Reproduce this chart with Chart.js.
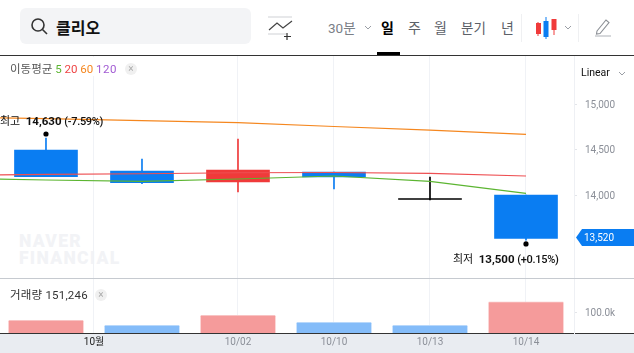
<!DOCTYPE html>
<html lang="ko"><head><meta charset="utf-8">
<script src="https://cdn.jsdelivr.net/npm/chart.js@4"></script>
<style>
html,body{margin:0;padding:0;background:#fff;overflow:hidden}
body{width:634px;height:353px;position:relative;font-family:Roboto,"Noto Sans CJK KR",sans-serif;color:#222}
.a{position:absolute;white-space:nowrap}
canvas{position:absolute;left:0}
</style></head><body>
<div class="a" style="left:20px;top:8px;width:231px;height:36px;background:#f3f4f6;border-radius:6px"></div>
<svg class="a" style="left:30px;top:17px" width="20" height="20" fill="none" stroke="#333" stroke-width="1.6"><circle cx="8" cy="8" r="6"/><path d="M12.5 12.5L17 17"/></svg>
<div class="a" style="left:56px;top:15px;font:bold 16px/24px 'Noto Sans CJK KR';color:#111">클리오</div>
<svg class="a" style="left:268px;top:16px" width="26" height="24" fill="none" stroke-width="1.2"><path d="M0 1H24M0 18H18" stroke="#cfd2d6"/><path d="M1 14L9 7L15 12L24 5" stroke="#444"/><path d="M19 17V24M16 20.5H23" stroke="#333"/></svg>
<div class="a" style="left:328px;top:18px;font:13.5px/20px Roboto,'Noto Sans CJK KR';color:#7b8087">30분</div>
<svg class="a" style="left:364px;top:25px" width="8" height="6" fill="none" stroke="#9a9ea5"><path d="M1 1L4 4L7 1"/></svg>
<div class="a" style="left:381px;top:17px;font:bold 14px/20px 'Noto Sans CJK KR';color:#000">일</div>
<div class="a" style="left:408px;top:17px;font:14px/20px 'Noto Sans CJK KR';color:#5c6168">주</div>
<div class="a" style="left:434px;top:17px;font:14px/20px 'Noto Sans CJK KR';color:#5c6168">월</div>
<div class="a" style="left:461px;top:17px;font:13.5px/20px 'Noto Sans CJK KR';color:#5c6168">분기</div>
<div class="a" style="left:501px;top:17px;font:14px/20px 'Noto Sans CJK KR';color:#5c6168">년</div>
<div class="a" style="left:521px;top:14px;width:1px;height:28px;background:#eff0f2"></div>
<div class="a" style="left:578px;top:14px;width:1px;height:28px;background:#eff0f2"></div>
<svg class="a" style="left:535px;top:16px" width="24" height="24"><path d="M3 6V20M19 3V19" stroke="#f03a3a"/><rect x="1" y="7" width="5" height="11" fill="#f03a3a"/><rect x="16.500" y="3" width="5" height="11" fill="#f03a3a"/><path d="M11 1V23" stroke="#0a7df2"/><rect x="8.500" y="5" width="5" height="16" fill="#0a7df2"/></svg>
<svg class="a" style="left:564px;top:25px" width="8" height="6" fill="none" stroke="#9a9ea5"><path d="M1 1L4 4L7 1"/></svg>
<svg class="a" style="left:594px;top:18px" width="18" height="20" fill="none" stroke="#8c9096" stroke-width="1.1"><path d="M3 13L12 2L15 4.500L6 15.500L2.500 16Z"/><path d="M1 18H17" stroke="#b5b8bd"/></svg>
<div class="a" style="left:377px;top:52px;width:23px;height:3px;background:#000"></div>
<div class="a" style="left:0;top:55px;width:634px;height:1px;background:#333"></div>

<div class="a" style="left:19px;top:233px;font:900 17.500px/17px Roboto,sans-serif;letter-spacing:1.3px;color:#f2f3f6">NAVER<br>FINANCIAL</div>

<canvas id="price" width="634" height="222" style="top:56px;width:634px;height:222px"></canvas>
<canvas id="volume" width="634" height="74" style="top:279px;width:634px;height:74px"></canvas>

<div class="a" style="left:0;top:278px;width:634px;height:1px;background:#c6cad0"></div>

<div class="a" style="left:0;top:57px;width:140px;height:19px;background:#fff"></div>
<div class="a" style="left:10px;top:61px;font:11.500px/16px Roboto,'Noto Sans CJK KR';color:#555">이동평균 <span style="color:#5cb531">5</span> <span style="color:#ee4444">20</span> <span style="color:#f5871f">60</span> <span style="color:#a25bd3;letter-spacing:.5px">120</span></div>
<div class="a" style="left:125px;top:63px;width:12px;height:12px;border-radius:6px;background:#f0f0f0;color:#aaa;font:10px/12px Roboto;text-align:center">×</div>
<div class="a" style="left:581px;top:65px;font:10.500px/16px Roboto;color:#111">Linear</div>
<svg class="a" style="left:618px;top:71px" width="8" height="6" fill="none" stroke="#9a9ea5"><path d="M1 1L4 4L7 1"/></svg>

<div class="a" style="left:0;top:113px;font:11px/17px Roboto,'Noto Sans CJK KR';color:#111">최고 &nbsp;<b style="font-size:11.500px">14,630</b> <span style="letter-spacing:-.3px;font-weight:500">(-7.59%)</span></div>
<div class="a" style="left:453px;top:251px;font:11px/17px Roboto,'Noto Sans CJK KR';color:#111">최저 &nbsp;<b style="font-size:11.500px">13,500</b> <span style="letter-spacing:-.3px;font-weight:500">(+0.15%)</span></div>

<div class="a" style="left:576px;top:229px;width:58px;height:17px;background:#0a7df2;clip-path:polygon(6px 0,100% 0,100% 100%,6px 100%,0 50%)"></div>
<div class="a" style="left:584px;top:230px;font:10px/16px Roboto;color:#fff">13,520</div>

<div class="a" style="left:10px;top:287px;font:11.500px/16px Roboto,'Noto Sans CJK KR';color:#333;letter-spacing:.2px">거래량 151,246</div>
<div class="a" style="left:95px;top:289px;width:12px;height:12px;border-radius:6px;background:#f0f0f0;color:#aaa;font:10px/12px Roboto;text-align:center">×</div>

<script>
const categories = ['09/30','10/01','10/02','10/10','10/13','10/14'];
const opens  = [14497,14265,14144,14254,13950,14000];
const closes = [14202,14136,14276,14199,13950,13520];
const highs  = [14630,14398,14619,14254,14199,14000];
const lows   = [14202,14125,14033,14066,13945,13500];
const ma5x   = [14185,14166,14151,14177,14210,14151,14019];
const ma20x  = [14219,14227,14235,14246,14249,14240,14210];
const ma60x  = [14864,14843,14821,14799,14757,14718,14671];
const extremeDots = [14674,13459];
const volumes = [62000,37500,86000,52000,37500,151246];
const volumeRising = [true,false,true,false,false,true];
const priceTicks = [14000,14500,15000];
const volumeTicks = [100000];
const axisPositions = [0.5,2,3,4,5];
const axisLabels = ['10월','10/02','10/10','10/13','10/14'];

const UP='#f03a3a', DOWN='#0a7df2', FLAT='#000';
const idx = categories.map((_,i)=>i);
const candleColor = i => closes[i]>opens[i]?UP:closes[i]<opens[i]?DOWN:FLAT;
const candleColors = idx.map(candleColor);
const maLine = (arr,color)=>({type:'line',data:arr.map((y,i)=>({x:i-1,y})),borderColor:color,borderWidth:1.2,pointRadius:0,tension:0,order:1});
const xBase = {type:'linear',min:-0.479,max:5.5,offset:false,
  afterBuildTicks(s){s.ticks=axisPositions.map(value=>({value}));}};
const gridColor='#f0f2f6';
Chart.defaults.font.family='Roboto,"Noto Sans CJK KR",sans-serif';

new Chart(document.getElementById('price'),{
  data:{datasets:[
    {type:'bar',grouped:false,data:idx.map(i=>({x:i,y:[lows[i],highs[i]]})),backgroundColor:candleColors,barThickness:1,order:5},
    {type:'bar',grouped:false,data:idx.map(i=>({x:i,y:[opens[i],closes[i]]})),backgroundColor:candleColors,barThickness:63,minBarLength:1,order:4},
    maLine(ma60x,'#f5871f'),maLine(ma20x,'#ee4f52'),maLine(ma5x,'#5cb531'),
    {type:'line',showLine:false,data:[{x:0,y:extremeDots[0]},{x:5,y:extremeDots[1]}],pointRadius:2.6,pointBackgroundColor:'#000',pointBorderWidth:0,order:0}
  ]},
  options:{responsive:false,animation:false,events:[],layout:{padding:0,autoPadding:false},
    plugins:{legend:{display:false},tooltip:{enabled:false}},
    scales:{
      x:{...xBase,afterFit(s){s.paddingLeft=0;s.paddingRight=0;},ticks:{display:false},border:{display:false},grid:{offset:false,color:gridColor,drawTicks:false}},
      y:{position:'right',min:13083,max:15536,
        afterBuildTicks(s){s.ticks=priceTicks.map(value=>({value}));},
        afterFit(s){s.width=60;s.paddingTop=0;s.paddingBottom=0;},
        grid:{drawOnChartArea:false,drawTicks:true,tickLength:3,tickColor:'#e3e5e9'},
        border:{color:'#eef0f4'},
        ticks:{padding:8,labelOffset:1,color:'#8b8f98',font:{size:10},callback:v=>v.toLocaleString('en-US')}}
    }}
});

new Chart(document.getElementById('volume'),{
  data:{datasets:[{type:'bar',data:idx.map(i=>({x:i,y:volumes[i]})),
    backgroundColor:volumeRising.map(r=>r?'#f59b9b':'#84bcf9'),
    borderColor:volumeRising.map(r=>r?'#f8c3c3':'#b8d8fb'),
    borderWidth:{top:1,left:0,right:0,bottom:0},borderSkipped:false,barThickness:75}]},
  options:{responsive:false,animation:false,events:[],layout:{padding:0,autoPadding:false},
    plugins:{legend:{display:false},tooltip:{enabled:false}},
    scales:{
      x:{...xBase,afterFit(s){s.height=20;s.paddingLeft=0;s.paddingRight=0;},border:{color:'#333',width:1},
        grid:{offset:false,color:gridColor,drawTicks:false},
        ticks:{autoSkip:false,maxRotation:0,padding:3,font:{size:10},
          color:c=>c.index===0?'#222':'#8b8f98',
          callback:(v,i)=>axisLabels[i]}},
      y:{position:'right',min:0,max:263000,
        afterBuildTicks(s){s.ticks=volumeTicks.map(value=>({value}));},
        afterFit(s){s.width=60;s.paddingTop=0;s.paddingBottom=0;},
        grid:{drawOnChartArea:false,drawTicks:true,tickLength:3,tickColor:'#e3e5e9'},
        border:{color:'#eef0f4'},
        ticks:{padding:8,labelOffset:1,color:'#8b8f98',font:{size:10},callback:v=>(v/1000).toFixed(1)+'k'}}
    }},
  plugins:[{id:'axisStrip',beforeDraw(c){const g=c.ctx;g.save();g.fillStyle='#e9ecf1';g.fillRect(0,c.chartArea.bottom,c.width,c.height-c.chartArea.bottom);g.fillStyle='#333';g.fillRect(0,c.chartArea.bottom,c.width,1);g.restore();}}]
});
</script>
</body></html>
